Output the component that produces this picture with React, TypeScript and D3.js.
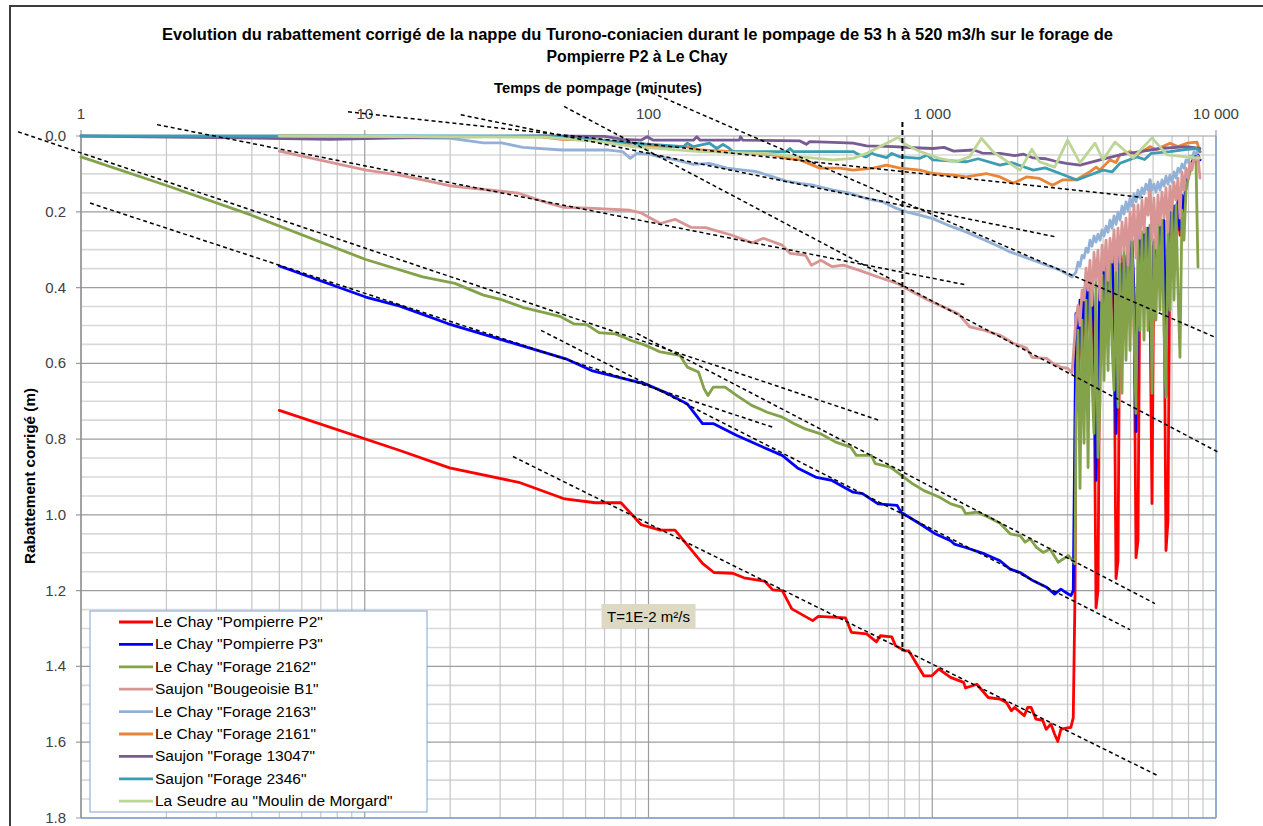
import React from "react";
import * as d3 from "d3";

type P = [number, number];

const titleLines = [
  "Evolution du rabattement corrigé de la nappe du Turono-coniacien durant le pompage de 53 h à 520 m3/h sur le forage de",
  "Pompierre P2 à Le Chay",
];
const xAxisTitle = "Temps de pompage (minutes)";
const yAxisTitle = "Rabattement corrigé (m)";
const xTickValues = [1, 10, 100, 1000, 10000];
const xTickLabels = ["1", "10", "100", "1 000", "10 000"];
const yTickValues = [0, 0.2, 0.4, 0.6, 0.8, 1.0, 1.2, 1.4, 1.6, 1.8];
const yTickLabels = ["0.0", "0.2", "0.4", "0.6", "0.8", "1.0", "1.2", "1.4", "1.6", "1.8"];
const annotationText = "T=1E-2 m²/s";
const annotationPos: P = [100, 1.267];

const seriesNames = [
  'Le Chay "Pompierre P2"',
  'Le Chay "Pompierre P3"',
  'Le Chay "Forage 2162"',
  'Saujon "Bougeoisie B1"',
  'Le Chay "Forage 2163"',
  'Le Chay "Forage 2161"',
  'Saujon "Forage 13047"',
  'Saujon "Forage 2346"',
  'La Seudre au "Moulin de Morgard"',
];
const seriesColors = ["#ff0000", "#0000ff", "#84a24a", "#d89593", "#93b1d6", "#ea8436", "#775b92", "#3b9cb2", "#bdd597"];

// pumping phase (time in minutes, drawdown in m)
const p2Pumping: P[] = [[5,0.724],[13.3,0.83],[19.9,0.876],[34.9,0.914],[50.7,0.958],[64.9,0.968],[80,0.968],[94.3,1.026],[110,1.04],[124,1.04],[155,1.128],[170,1.152],[198,1.154],[217,1.166],[257,1.175],[274,1.198],[296,1.2],[320,1.248],[379,1.279],[397,1.268],[495,1.272],[519,1.31],[587,1.314],[636,1.335],[656,1.319],[720,1.322],[742,1.345],[803,1.359],[827,1.359],[935,1.425],[995,1.425],[1056,1.407],[1160,1.429],[1290,1.442],[1310,1.457],[1436,1.447],[1575,1.482],[1733,1.486],[1826,1.495],[1900,1.517],[1950,1.508],[2110,1.53],[2170,1.508],[2230,1.508],[2320,1.539],[2450,1.542],[2520,1.566],[2620,1.552],[2700,1.579],[2770,1.598],[2840,1.566],[2960,1.563],[3080,1.561],[3140,1.535],[3186,1.2]];
const p3Pumping: P[] = [[5,0.343],[10.08,0.425],[13.3,0.449],[19.6,0.495],[33.8,0.548],[51.1,0.588],[63,0.619],[97.4,0.654],[117,0.68],[137,0.707],[155,0.759],[169,0.759],[204,0.79],[246,0.817],[296,0.843],[335,0.876],[391,0.901],[443,0.909],[526,0.94],[568,0.944],[644,0.971],[752,0.975],[776,0.993],[907,1.024],[1025,1.05],[1160,1.068],[1196,1.077],[1310,1.086],[1530,1.103],[1733,1.121],[1880,1.143],[2040,1.152],[2270,1.174],[2530,1.191],[2700,1.209],[2840,1.196],[2960,1.205],[3080,1.213],[3140,1.2]];
const f2162Pumping: P[] = [[1,0.055],[1.99,0.13],[3.99,0.209],[10.08,0.326],[16,0.372],[20.8,0.389],[26.2,0.42],[30.3,0.432],[36.3,0.453],[49.1,0.477],[54.7,0.496],[60.6,0.498],[66.9,0.519],[75.9,0.522],[81.3,0.53],[86.3,0.539],[97.4,0.552],[110,0.57],[129,0.579],[137,0.61],[150,0.623],[157,0.667],[162,0.685],[169,0.663],[186,0.663],[205,0.685],[231,0.711],[262,0.729],[296,0.742],[325,0.759],[357,0.773],[404,0.786],[457,0.808],[516,0.821],[540,0.843],[610,0.843],[630,0.865],[711,0.874],[779,0.896],[853,0.918],[935,0.936],[1057,0.953],[1162,0.971],[1274,0.98],[1312,0.997],[1438,0.993],[1579,1.006],[1733,1.022],[1880,1.05],[2040,1.055],[2125,1.072],[2215,1.063],[2330,1.086],[2460,1.099],[2600,1.09],[2780,1.125],[2900,1.116],[3020,1.107],[3186,1.129]];
const b1Pumping: P[] = [[5,0.04],[10.1,0.09],[13.3,0.103],[20.3,0.132],[34.9,0.151],[42.9,0.174],[49.9,0.188],[64.3,0.191],[86,0.196],[94.3,0.203],[110,0.231],[124,0.22],[141,0.241],[159,0.242],[197,0.262],[232,0.282],[254,0.27],[296,0.288],[316,0.31],[358,0.315],[375,0.341],[405,0.328],[444,0.345],[486,0.341],[551,0.354],[644,0.372],[752,0.389],[853,0.412],[966,0.433],[1092,0.451],[1235,0.469],[1357,0.504],[1530,0.513],[1733,0.526],[1930,0.547],[2150,0.56],[2250,0.584],[2530,0.587],[2660,0.6],[2860,0.611],[3000,0.613],[3110,0.626]];
const f2163Pumping: P[] = [[5,0],[20.1,0.006],[26.2,0.018],[30.3,0.018],[36.1,0.03],[49.6,0.037],[72.3,0.037],[81,0.041],[86.3,0.059],[90.9,0.046],[100,0.048],[110,0.055],[125,0.063],[144,0.075],[164,0.072],[189,0.085],[216,0.09],[240,0.094],[275,0.108],[306,0.119],[342,0.125],[381,0.13],[448,0.143],[513,0.151],[585,0.165],[671,0.174],[748,0.191],[811,0.2],[905,0.209],[1005,0.218],[1160,0.238],[1315,0.253],[1535,0.275],[1733,0.293],[1880,0.306],[2040,0.315],[2265,0.328],[2530,0.341],[2820,0.354],[3110,0.372]];

// recovery phase: shared times and drawdowns
const recoveryTimes = [3211,3264,3317,3372,3427,3484,3541,3597,3656,3715,3777,3838,3902,3966,4030,4097,4164,4231,4301,4371,4443,4515,4589,4664,4741,4818,4897,4977,5058,5140,5225,5310,5397,5485,5575,5665,5759,5853,5948,6046,6144,6245,6347,6451,6556,6664,6772,6884,6996,7111,7227,7345,7465,7588,7712,7838,7966,8097,8229,8364,8500,8640,8780];
const p2Recovery = [0.513,0.671,0.46,0.592,0.433,0.539,0.407,0.513,0.394,0.566,1.245,1.2,0.407,0.486,0.367,0.46,0.354,0.46,0.341,0.486,1.168,1.121,0.328,0.407,0.315,0.407,0.301,0.407,0.296,0.433,1.113,1.068,0.288,0.394,0.275,0.381,0.27,0.433,0.97,0.288,0.328,0.254,0.354,0.243,0.328,1.094,1.015,0.222,0.315,0.201,0.288,0.182,0.262,0.164,0.209,0.13,0.111,0.09,0.074,0.063,0.058,0.053,0.063];
const p3Recovery = [0.468,0.645,0.433,0.566,0.407,0.513,0.381,0.486,0.367,0.513,0.909,0.645,0.367,0.46,0.341,0.433,0.333,0.433,0.315,0.433,0.785,0.513,0.301,0.381,0.465,0.367,0.288,0.394,0.275,0.407,0.78,0.433,0.262,0.381,0.254,0.354,0.243,0.433,0.592,0.275,0.301,0.381,0.227,0.328,0.222,0.685,0.301,0.201,0.301,0.185,0.275,0.169,0.248,0.156,0.196,0.116,0.103,0.085,0.069,0.058,0.053,0.05,0.063];
const f2162Recovery: (number | null)[] = [0.751,0.513,0.93,0.486,0.811,0.433,0.875,0.407,0.645,0.785,0.381,0.848,0.698,0.367,0.645,0.354,0.619,0.328,0.552,0.671,0.315,0.716,0.328,0.679,0.301,0.592,0.288,0.566,0.275,0.513,0.732,0.275,0.513,0.254,0.539,0.243,0.513,0.235,0.679,0.275,0.486,0.227,0.46,0.222,0.513,0.69,0.217,0.46,0.196,0.433,0.182,0.407,0.584,0.196,0.275,0.143,0.116,0.095,0.077,0.063,0.063,0.346,null];
const b1Recovery = [0.481,0.447,0.5,0.407,0.433,0.349,0.407,0.328,0.447,0.307,0.381,0.301,0.433,0.288,0.354,0.275,0.381,0.27,0.333,0.248,0.354,0.243,0.333,0.227,0.301,0.217,0.341,0.201,0.275,0.182,0.322,0.182,0.27,0.169,0.254,0.164,0.209,0.116,0.275,0.164,0.296,0.156,0.235,0.148,0.217,0.137,0.254,0.132,0.196,0.122,0.169,0.111,0.217,0.095,0.143,0.085,0.111,0.069,0.09,0.058,0.063,0.053,0.111];
const f2163Recovery = [0.359,0.333,0.344,0.315,0.322,0.296,0.307,0.275,0.291,0.264,0.28,0.259,0.275,0.248,0.264,0.238,0.254,0.222,0.243,0.211,0.233,0.201,0.222,0.185,0.206,0.174,0.196,0.164,0.185,0.153,0.174,0.143,0.164,0.137,0.153,0.127,0.143,0.116,0.143,0.127,0.148,0.122,0.143,0.116,0.132,0.106,0.127,0.103,0.122,0.095,0.111,0.085,0.095,0.074,0.085,0.063,0.069,0.053,0.058,0.042,0.048,0.037,0.042];

// full records for the shallow wells and the river
const f2161: P[] = [[5,0],[41.8,0.002],[49.6,0.009],[60.7,0.011],[77.3,0.015],[88.5,0.028],[136,0.028],[152,0.037],[198,0.041],[275,0.05],[307,0.059],[342,0.063],[402,0.085],[473,0.085],[526,0.09],[619,0.085],[690,0.077],[770,0.085],[905,0.09],[1005,0.099],[1190,0.103],[1320,0.108],[1550,0.099],[1733,0.108],[1930,0.125],[2150,0.108],[2385,0.112],[2655,0.13],[2875,0.116],[3210,0.116],[3600,0.094],[3780,0.082],[3900,0.09],[4230,0.063],[4440,0.07],[4590,0.05],[4980,0.041],[5270,0.05],[5850,0.028],[6150,0.036],[6885,0.019],[7340,0.028],[7900,0.019],[8570,0.016],[8780,0.042]];
const f13047: P[] = [[1,0],[2.98,0.004],[7.55,0.009],[18,0.003],[42.9,0],[70,0.001],[81.2,0.009],[94.1,0.011],[98.9,0.002],[104,0.011],[144,0.011],[148,0.002],[152,0.011],[209,0.011],[211,0.002],[215,0.011],[342,0.013],[360,0.022],[370,0.015],[448,0.017],[526,0.019],[587,0.026],[732,0.028],[861,0.031],[1005,0.033],[1100,0.03],[1190,0.04],[1400,0.037],[1500,0.045],[1733,0.046],[1950,0.052],[2100,0.048],[2270,0.058],[2500,0.06],[2700,0.066],[2970,0.072],[3317,0.077],[3902,0.063],[4589,0.05],[5397,0.041],[6347,0.033],[7900,0.028],[8780,0.033]];
const f2346: P[] = [[1,0],[42.9,0],[67.5,0.011],[88.4,0.019],[133,0.028],[137,0.019],[144,0.028],[164,0.019],[174,0.033],[183,0.022],[193,0.033],[198,0.041],[306,0.041],[315,0.033],[323,0.041],[526,0.041],[554,0.05],[585,0.055],[610,0.045],[635,0.05],[690,0.057],[720,0.046],[770,0.055],[905,0.059],[960,0.05],[1005,0.063],[1320,0.068],[1450,0.06],[1733,0.077],[1900,0.07],[2270,0.09],[2500,0.084],[2820,0.099],[3236,0.116],[3597,0.103],[4000,0.09],[4300,0.095],[4589,0.072],[5268,0.055],[5600,0.062],[5900,0.046],[6884,0.041],[7900,0.035],[8570,0.033],[8780,0.041]];
const seudre: P[] = [[5,0],[42.9,0.003],[67.5,0.015],[88.4,0.028],[152,0.041],[261,0.046],[342,0.055],[448,0.063],[526,0.059],[587,0.046],[671,0.024],[760,0.003],[790,0.019],[905,0.041],[1060,0.059],[1210,0.068],[1355,0.055],[1490,0.006],[1635,0.041],[1980,0.084],[2040,0.09],[2245,0.035],[2385,0.068],[2700,0.082],[3000,0.011],[3317,0.071],[3746,0.019],[3998,0.063],[4407,0.016],[5100,0.058],[5948,0.005],[6718,0.05],[8570,0.058],[8780,0.058]];

// Jacob straight-line fits [t1, s1, t2, s2]
const fitLines: [number, number, number, number][] = [
  [0.6, -0.011, 654, 0.751],
  [1.076, 0.177, 275, 0.769],
  [1.853, -0.03, 1315, 0.393],
  [50.4, -0.078, 10330, 0.837],
  [97.2, -0.122, 9915, 0.531],
  [21.8, -0.056, 2754, 0.267],
  [8.73, -0.064, 5530, 0.162],
  [41.8, 0.513, 4977, 1.303],
  [91.1, 0.521, 6095, 1.234],
  [33.3, 0.846, 6266, 1.689],
];
const markerLine: [number, number, number, number] = [785, -0.037, 785, 1.36];

function joinRecovery(pumping: P[], rec: (number | null)[]): P[] {
  const out: P[] = pumping.slice();
  rec.forEach((v, i) => {
    if (v !== null) out.push([recoveryTimes[i], v]);
  });
  return out;
}

const seriesData: P[][] = [
  joinRecovery(p2Pumping, p2Recovery),
  joinRecovery(p3Pumping, p3Recovery),
  joinRecovery(f2162Pumping, f2162Recovery),
  joinRecovery(b1Pumping, b1Recovery),
  joinRecovery(f2163Pumping, f2163Recovery),
  f2161,
  f13047,
  f2346,
  seudre,
];

const FONT = "'Liberation Sans', Arial, sans-serif";

export default function App() {
  const W = 1263, H = 826;
  const left = 81, right = 1216, top = 136, bottom = 818;
  const x = d3.scaleLog().domain([1, 10000]).range([left, right]);
  const y = d3.scaleLinear().domain([0, 1.8]).range([top, bottom]);
  const line = d3.line<P>().x((d) => x(d[0])).y((d) => y(d[1]));

  const minorX: number[] = [];
  [1, 10, 100, 1000].forEach((dec) => {
    for (let k = 2; k <= 9; k++) minorX.push(dec * k);
  });
  const hGrid = d3.range(0, 37).map((i) => i * 0.05);

  const legendX = 90, legendY = 611, legendW = 337, legendH = 201;

  return (
    <>
      <style>{"body{margin:0;overflow:hidden;background:#fff}"}</style>
      <svg width={W} height={H} style={{ display: "block", fontFamily: FONT }}>
        <rect x={0} y={0} width={W} height={H} fill="#fff" />
        <rect x={10} y={6} width={1400} height={1000} fill="none" stroke="#3d3d3d" strokeWidth={2} />

        {/* grid */}
        {hGrid.map((v, i) =>
          i % 4 === 0 ? null : (
            <line key={"hm" + i} x1={left} x2={right} y1={y(v)} y2={y(v)} stroke="#d9d9d9" strokeWidth={1.6} />
          )
        )}
        {minorX.map((v) => (
          <line key={"vm" + v} x1={x(v)} x2={x(v)} y1={top} y2={bottom} stroke="#c6c6c6" strokeWidth={1.2} />
        ))}
        {yTickValues.map((v) => (
          <line key={"hM" + v} x1={left - 5} x2={right} y1={y(v)} y2={y(v)} stroke="#9d9d9d" strokeWidth={1.2} />
        ))}
        {xTickValues.map((v) => (
          <line key={"vM" + v} x1={x(v)} x2={x(v)} y1={top - 6} y2={bottom} stroke="#9d9d9d" strokeWidth={1.2} />
        ))}
        <line x1={right} x2={right} y1={top} y2={bottom} stroke="#7ea4d4" strokeWidth={1.3} />
        <line x1={left} x2={right} y1={bottom} y2={bottom} stroke="#7ea4d4" strokeWidth={1.3} />
        <line x1={left} x2={left} y1={top} y2={bottom} stroke="#8c8c8c" strokeWidth={1.2} />

        {/* tick labels */}
        {yTickLabels.map((lab, i) => (
          <text key={"yl" + i} x={66} y={y(yTickValues[i]) + 5} textAnchor="end" fontSize={15} fill="#404040">
            {lab}
          </text>
        ))}
        {xTickLabels.map((lab, i) => (
          <text key={"xl" + i} x={x(xTickValues[i])} y={119} textAnchor="middle" fontSize={15} fill="#404040">
            {lab}
          </text>
        ))}

        {/* titles */}
        <text x={637.5} y={40} textAnchor="middle" fontSize={16} fontWeight="bold" fill="#000" textLength={951} lengthAdjust="spacingAndGlyphs">
          {titleLines[0]}
        </text>
        <text x={637} y={62} textAnchor="middle" fontSize={16} fontWeight="bold" fill="#000" textLength={181} lengthAdjust="spacingAndGlyphs">
          {titleLines[1]}
        </text>
        <text x={598} y={93} textAnchor="middle" fontSize={15} fontWeight="bold" fill="#000" textLength={208} lengthAdjust="spacingAndGlyphs">
          {xAxisTitle}
        </text>
        <text
          transform={`translate(35,476) rotate(-90)`}
          textAnchor="middle"
          fontSize={14.5}
          fontWeight="bold"
          fill="#000"
          textLength={176}
          lengthAdjust="spacingAndGlyphs"
        >
          {yAxisTitle}
        </text>

        {/* series */}
        {seriesData.map((d, i) => (
          <path
            key={"s" + i}
            d={line(d) || ""}
            fill="none"
            stroke={seriesColors[i]}
            strokeWidth={2.8}
            strokeLinejoin="round"
            strokeLinecap="round"
          />
        ))}

        {/* fit lines */}
        {fitLines.map((l, i) => (
          <line
            key={"f" + i}
            x1={x(l[0])}
            y1={y(l[1])}
            x2={x(l[2])}
            y2={y(l[3])}
            stroke="#000"
            strokeWidth={1.5}
            strokeDasharray="4 3"
          />
        ))}
        <line
          x1={x(markerLine[0])}
          y1={y(markerLine[1])}
          x2={x(markerLine[2])}
          y2={y(markerLine[3])}
          stroke="#000"
          strokeWidth={2}
          strokeDasharray="5 3"
        />

        {/* annotation */}
        <rect x={x(annotationPos[0]) - 47} y={y(annotationPos[1]) - 12} width={94} height={24} fill="#ddd9c3" />
        <text x={x(annotationPos[0])} y={y(annotationPos[1]) + 6} textAnchor="middle" fontSize={15} fill="#000">
          {annotationText}
        </text>

        {/* legend */}
        <rect x={legendX} y={legendY} width={legendW} height={legendH} fill="#fff" stroke="#7ea4d4" strokeWidth={1} />
        {seriesNames.map((n, i) => {
          const cy = legendY + 11 + i * 22.4;
          return (
            <g key={"lg" + i}>
              <line x1={119} x2={153} y1={cy} y2={cy} stroke={seriesColors[i]} strokeWidth={2.8} />
              <text x={155} y={cy + 5} fontSize={15.5} fill="#000">
                {n}
              </text>
            </g>
          );
        })}
      </svg>
    </>
  );
}
